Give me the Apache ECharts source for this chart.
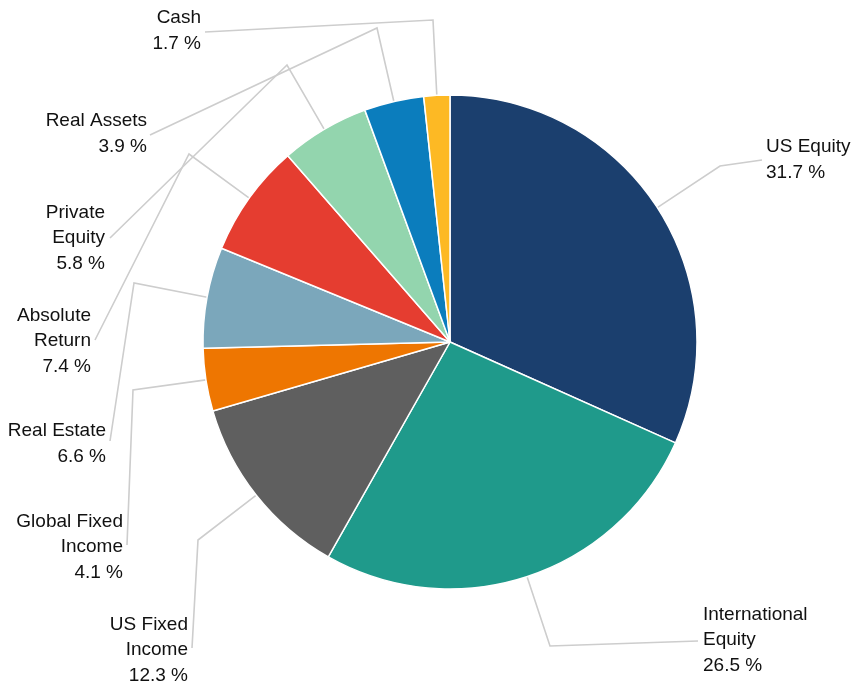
<!DOCTYPE html>
<html>
<head>
<meta charset="utf-8">
<script src="https://cdn.jsdelivr.net/npm/echarts@6/dist/echarts.min.js"></script>
<style>
  html, body { margin: 0; padding: 0; background: #fff; }
  #chart { width: 852px; height: 690px; }
</style>
</head>
<body>
<div id="chart"></div>
<script>
// data
const categories = ['US Equity', 'International Equity', 'US Fixed Income', 'Global Fixed Income',
  'Real Estate', 'Absolute Return', 'Private Equity', 'Real Assets', 'Cash'];
const labelNames = ['US Equity', 'International\nEquity', 'US Fixed\nIncome', 'Global Fixed\nIncome',
  'Real Estate', 'Absolute\nReturn', 'Private\nEquity', 'Real Assets', 'Cash'];
const shares = [31.7, 26.5, 12.3, 4.1, 6.6, 7.4, 5.8, 3.9, 1.7];
const colors = ['#1b3f6e', '#1f9a8b', '#5f5f5f', '#ee7601', '#7ba7bb', '#e53d30', '#93d5ae', '#0b7dbd', '#fdb924'];

// label placement (x, y of label anchor, alignment) and leader line bend / end
const labelPos = [
  [766, 160, 'left'], [703, 640, 'left'], [188, 650, 'right'], [123, 547, 'right'],
  [106, 444, 'right'], [91, 341, 'right'], [105, 238, 'right'], [147, 134, 'right'], [201, 31, 'right']
];
const bends = [[720, 166], [550, 646], [198, 540], [133, 390], [134, 283], [189, 154], [287, 65], [377, 28], [433, 20]];
const ends = [[762, 160], [698, 641], [192, 648], [127, 545], [110, 441], [95, 340], [110, 238], [150, 135], [205, 32]];

const chart = echarts.init(document.getElementById('chart'));
const option = {
  animation: false,
  series: [{
    type: 'pie',
    center: [450, 342],
    radius: 247,
    startAngle: 90,
    clockwise: true,
    avoidLabelOverlap: false,
    itemStyle: { borderColor: '#fff', borderWidth: 1.5 },
    label: {
      show: true,
      position: 'outside',
      fontFamily: '"Liberation Sans Narrow", "Liberation Sans", Arial, sans-serif',
      fontSize: 19,
      lineHeight: 25.5,
      color: '#111',
      formatter: (p) => labelNames[p.dataIndex] + '\n' + p.value.toFixed(1) + ' %'
    },
    labelLine: {
      show: true,
      length: 20,
      length2: 20,
      lineStyle: { color: '#cdcdcd', width: 1.6 }
    },
    labelLayout: (params) => {
      const i = params.dataIndex;
      const start = params.labelLinePoints ? params.labelLinePoints[0] : bends[i];
      return {
        x: labelPos[i][0],
        y: labelPos[i][1],
        align: labelPos[i][2],
        verticalAlign: 'middle',
        labelLinePoints: [start, bends[i], ends[i]]
      };
    },
    emphasis: { disabled: true },
    data: categories.map((c, i) => ({ name: c, value: shares[i], itemStyle: { color: colors[i] } }))
  }]
};
chart.setOption(option);
</script>
</body>
</html>
